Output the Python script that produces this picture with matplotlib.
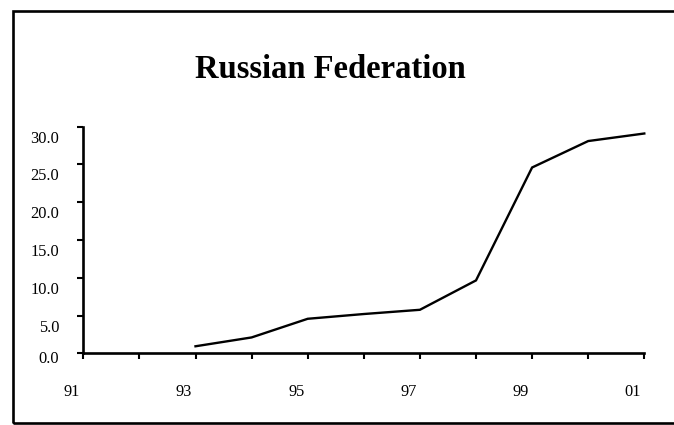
import numpy as np
import matplotlib
matplotlib.use("Agg")
import matplotlib.pyplot as plt
from matplotlib.transforms import ScaledTranslation
from matplotlib.patches import Rectangle

years = ["91", "92", "93", "94", "95", "96", "97", "98", "99", "00", "01"]
values = [np.nan, np.nan, 0.93, 2.1, 4.57, 5.2, 5.76, 9.65, 24.6, 28.1, 29.1]
xtick_labels = ["91", "", "93", "", "95", "", "97", "", "99", "", "01"]
yticks = [0, 5, 10, 15, 20, 25, 30]
ytick_labels = ["0.0", "5.0", "10.0", "15.0", "20.0", "25.0", "30.0"]
title = "Russian Federation"

plt.rcParams['font.family'] = ['Liberation Serif', 'DejaVu Serif']

W, H, DPI = 674, 425, 100
fig = plt.figure(figsize=(W / DPI, H / DPI), dpi=DPI)

# outer frame (right edge runs off the picture)
fig.patches.append(Rectangle((13 / W, 1 - 423 / H), (700 - 13) / W, (423 - 11) / H,
                             transform=fig.transFigure, fill=False,
                             edgecolor='black', linewidth=1.9, clip_on=False))

ax = fig.add_axes([83.3 / W, 1 - 353.3 / H, 561 / W, 226.6 / H])
x = np.arange(len(years))
ax.plot(x, values, color='black', linewidth=1.7, clip_on=False, solid_joinstyle='miter')
ax.set_xlim(0, len(years) - 1)
ax.set_ylim(0, 30)

for s in ['top', 'right']:
    ax.spines[s].set_visible(False)
for s in ['left', 'bottom']:
    ax.spines[s].set_linewidth(1.9)

ax.set_xticks(x)
ax.set_xticklabels(xtick_labels, fontsize=11.8)
ax.set_yticks(yticks)
ax.set_yticklabels(ytick_labels, fontsize=11.8)
ax.tick_params(axis='x', direction='out', length=4.3, width=1.5, pad=17.5)
ax.tick_params(axis='y', direction='out', length=4.3, width=1.5, pad=13)

for lab in ax.get_xticklabels():
    lab.set_transform(lab.get_transform() + ScaledTranslation(-11.5 / DPI, 0, fig.dpi_scale_trans))
for lab, v in zip(ax.get_yticklabels(), yticks):
    dy = -4 if v == 0 else -10
    lab.set_transform(lab.get_transform() + ScaledTranslation(0, dy / DPI, fig.dpi_scale_trans))

fig.text(330.8 / W, 1 - 78.3 / H, title, ha='center', va='baseline',
         fontsize=23.5, fontweight='bold')

fig.savefig("out.png", dpi=DPI)
